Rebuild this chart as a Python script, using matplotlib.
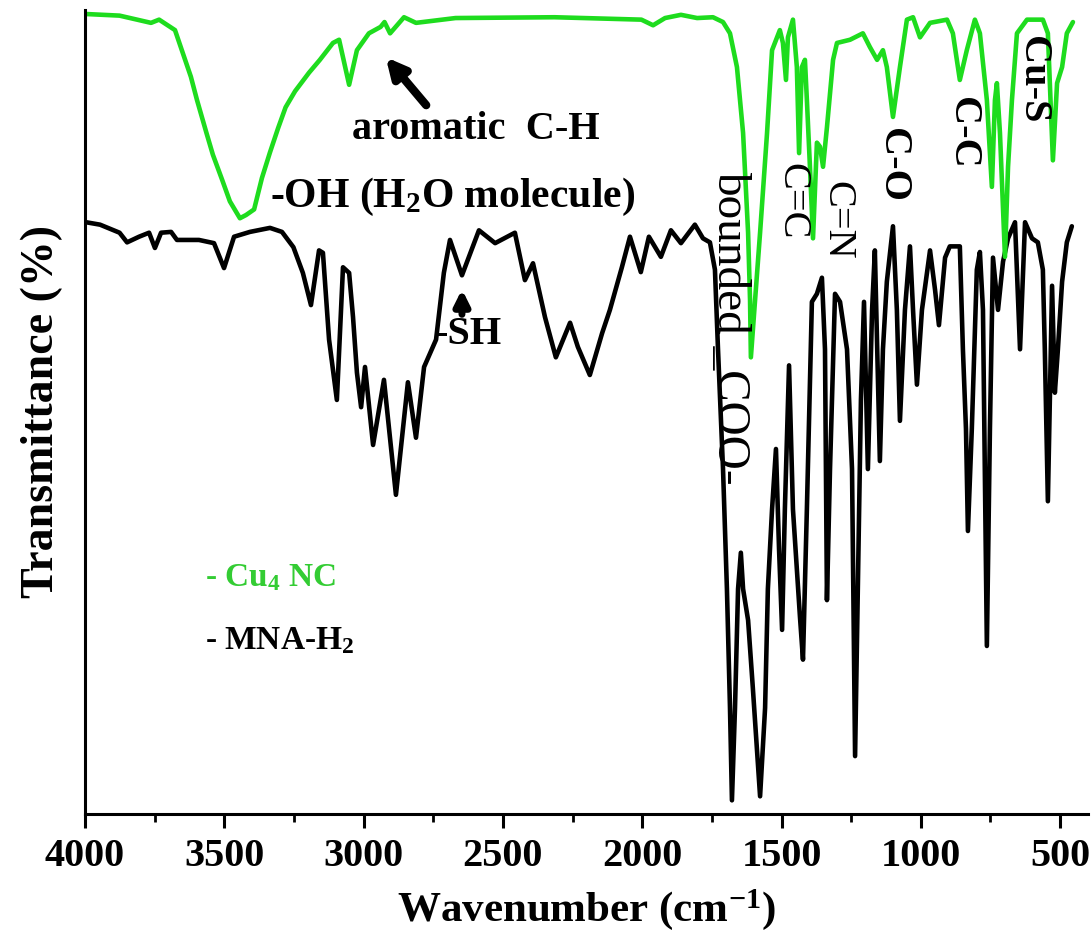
import matplotlib
matplotlib.use("Agg")
import matplotlib.pyplot as plt
from matplotlib.ticker import MultipleLocator

plt.rcParams['font.family'] = ['Liberation Serif', 'DejaVu Serif']
plt.rcParams['mathtext.fontset'] = 'custom'
plt.rcParams['mathtext.rm'] = 'Liberation Serif:bold'
plt.rcParams['mathtext.bf'] = 'Liberation Serif:bold'
plt.rcParams['mathtext.it'] = 'Liberation Serif:bold:italic'

# ---- Cu4 NC spectrum (wavenumber, transmittance a.u.) ----
cu4_wn = [3996, 3876, 3763, 3734, 3677, 3620, 3598, 3564, 3541, 3508, 3480, 3444,
          3422, 3393, 3365, 3336, 3307, 3280, 3246, 3196, 3157, 3110, 3088, 3052,
          3024, 2981, 2939, 2925, 2905, 2855, 2812, 2670,
          2315, 2003, 1961, 1918, 1861, 1803, 1746, 1710, 1685, 1660, 1638, 1620,
          1613, 1610, 1595, 1577, 1552, 1534, 1506, 1495, 1484, 1477, 1459, 1445,
          1437, 1427, 1416, 1409, 1398, 1387, 1373, 1362, 1351, 1337, 1315, 1301,
          1254, 1208, 1183, 1157, 1136, 1122, 1100, 1075, 1050, 1028, 1003, 967,
          906, 885, 860, 835, 806, 788, 763, 745, 734, 727, 716, 698, 687, 673,
          655, 619, 562, 544, 526, 511, 493, 476, 454]
cu4_t = [99.5, 99.3, 98.4, 98.8, 97.5, 91.7, 88.8, 84.7, 82.0, 78.9, 76.2, 74.1,
         74.5, 75.2, 79.1, 82.3, 85.3, 87.9, 89.9, 92.2, 93.8, 95.9, 96.3, 90.7,
         95.0, 97.1, 97.9, 98.5, 97.1, 99.1, 98.4, 99.0,
         99.1, 98.8, 98.1, 99.0, 99.4, 99.0, 99.1, 98.5, 97.1, 92.9, 84.7, 72.3,
         63.9, 56.8, 63.9, 72.3, 84.7, 95.0, 97.5, 95.9, 91.3, 96.6, 98.8, 92.9,
         82.2, 92.9, 93.8, 88.8, 80.5, 71.6, 83.5, 83.0, 80.5, 85.4, 93.8, 95.9,
         96.3, 97.1, 95.4, 93.8, 95.0, 92.9, 86.7, 92.9, 98.8, 99.1, 96.6, 98.4,
         98.8, 97.1, 91.3, 95.0, 98.8, 97.1, 88.8, 78.0, 88.8, 90.9, 84.7, 69.3,
         80.5, 88.8, 97.1, 98.8, 98.8, 97.1, 81.3, 90.9, 92.9, 97.1, 98.5]

# ---- MNA-H2 spectrum ----
mna_wn = [3996, 3946, 3876, 3849, 3806, 3770, 3749, 3727, 3691, 3670, 3591, 3537,
          3501, 3465, 3408, 3336, 3293, 3252, 3218, 3189, 3160, 3146, 3124, 3096,
          3074, 3052, 3038, 3024, 3009, 2995, 2966, 2927, 2884, 2841, 2812, 2783,
          2740, 2712, 2690, 2647, 2586, 2528, 2457, 2421, 2392, 2349, 2310, 2259,
          2231, 2188, 2144, 2116, 2073, 2044, 2005, 1976, 1933, 1897, 1861, 1811,
          1782, 1757, 1739, 1728, 1710, 1696, 1685, 1678, 1667, 1656, 1646, 1638,
          1620, 1603, 1577, 1559, 1549, 1534, 1520, 1509, 1498, 1488, 1473, 1459,
          1445, 1434, 1423, 1409, 1391, 1373, 1355, 1344, 1337, 1326, 1308, 1290,
          1265, 1247, 1236, 1226, 1215, 1204, 1190, 1175, 1165, 1147, 1136, 1122,
          1100, 1086, 1075, 1057, 1039, 1028, 1014, 996, 967, 949, 935, 913, 896,
          860, 849, 838, 831, 817, 799, 788, 777, 763, 752, 741, 723, 705, 687,
          662, 644, 626, 601, 580, 562, 555, 544, 529, 519, 508, 493, 476, 458]
mna_t = [73.6, 73.3, 72.3, 71.1, 71.8, 72.3, 70.4, 72.3, 72.4, 71.4, 71.4, 71.0,
         67.9, 71.8, 72.4, 72.9, 72.4, 70.5, 67.3, 63.3, 70.1, 69.8, 59.0, 51.5,
         68.0, 67.3, 61.8, 54.9, 50.6, 55.6, 45.9, 54.0, 39.7, 53.7, 46.8, 55.6,
         59.0, 67.3, 71.4, 67.0, 72.6, 71.0, 72.3, 66.4, 68.5, 61.8, 56.8, 61.1,
         58.1, 54.6, 59.8, 62.7, 68.0, 71.8, 67.4, 71.8, 69.3, 72.6, 71.0, 73.3,
         71.6, 71.1, 67.7, 57.8, 42.9, 28.0, 13.2, 1.7, 13.2, 28.0, 32.5, 28.0,
         24.1, 15.7, 2.2, 13.2, 28.0, 37.9, 45.4, 33.0, 22.9, 37.9, 55.8, 37.9,
         30.5, 24.6, 19.2, 37.9, 63.7, 64.7, 66.7, 57.8, 26.6, 42.9, 64.7, 63.7,
         57.8, 42.9, 7.2, 28.0, 51.5, 63.7, 42.9, 62.7, 70.1, 43.9, 57.8, 66.2,
         73.1, 62.7, 48.9, 62.7, 70.6, 62.7, 53.4, 62.7, 70.1, 65.2, 60.8, 69.2, 70.6,
         70.6, 57.8, 47.9, 35.2, 47.9, 67.7, 69.9, 62.7, 20.9, 47.9, 69.2, 62.7, 68.7, 71.6,
         73.6, 57.8, 73.6, 71.6, 71.1, 67.7, 57.8, 38.9, 65.7, 52.4, 57.8, 66.2, 71.1, 73.1]

green = '#1EDC1E'

fig = plt.figure(figsize=(10.92, 9.41), dpi=100)
ax = fig.add_axes([85 / 1092, 127 / 941, 1003 / 1092, 804 / 941])

ax.plot(mna_wn, mna_t, color='black', lw=3.3, solid_joinstyle='round', solid_capstyle='round')
ax.plot(cu4_wn, cu4_t, color=green, lw=3.3, solid_joinstyle='round', solid_capstyle='round')

ax.set_xlim(4000, 400)
ax.set_ylim(0, 100)
ax.xaxis.set_major_locator(MultipleLocator(500))
ax.xaxis.set_minor_locator(MultipleLocator(250))
ax.set_yticks([])
for s in ['top', 'right']:
    ax.spines[s].set_visible(False)
for s in ['left', 'bottom']:
    ax.spines[s].set_linewidth(2.2)
ax.tick_params(axis='x', which='major', direction='out', length=10, width=2.2,
               labelsize=29, pad=7)
ax.tick_params(axis='x', which='minor', direction='out', length=6, width=2.0)
for lab in ax.get_xticklabels():
    lab.set_fontweight('bold')

ax.set_xlabel('Wavenumber (cm$^{-1}$)', fontsize=31, fontweight='bold', labelpad=9)
ax.set_ylabel('Transmittance (%)', fontsize=33, fontweight='bold', labelpad=16)

fs = 29
ax.text(2597, 85.1, 'aromatic  C-H', fontsize=fs, fontweight='bold', ha='center', va='center')
ax.annotate('', xy=(2927, 94.4), xytext=(2769, 87.9),
            arrowprops=dict(arrowstyle='-|>', color='black', lw=6, mutation_scale=28))
ax.text(3336, 76.7, '-OH (H$_2$O molecule)', fontsize=30, fontweight='bold', ha='left', va='center')
ax.text(2625, 59.6, '-SH', fontsize=fs, fontweight='bold', ha='center', va='center')
ax.annotate('', xy=(2647, 65.6), xytext=(2647, 61.8),
            arrowprops=dict(arrowstyle='-|>', color='black', lw=5, mutation_scale=22))

ax.text(1689, 60.5, 'bounded _COO-', fontsize=34, rotation=-90, ha='center', va='center')
ax.text(1463, 76.2, 'C=C', fontsize=fs, rotation=-90, ha='center', va='center')
ax.text(1301, 73.9, 'C=N', fontsize=fs, rotation=-90, ha='center', va='center')
ax.text(1100, 80.7, 'C-O', fontsize=fs, fontweight='bold', rotation=-90, ha='center', va='center')
ax.text(852, 84.7, 'C-C', fontsize=fs, fontweight='bold', rotation=-90, ha='center', va='center')
ax.text(598, 91.3, 'Cu-S', fontsize=fs, fontweight='bold', rotation=-90, ha='center', va='center')

ax.text(3569, 29.4, '- Cu$_4$ NC', fontsize=24, fontweight='bold', color='#33CC33', ha='left', va='center')
ax.text(3569, 21.6, '- MNA-H$_2$', fontsize=24, fontweight='bold', color='black', ha='left', va='center')

fig.savefig('out.png', dpi=100)
